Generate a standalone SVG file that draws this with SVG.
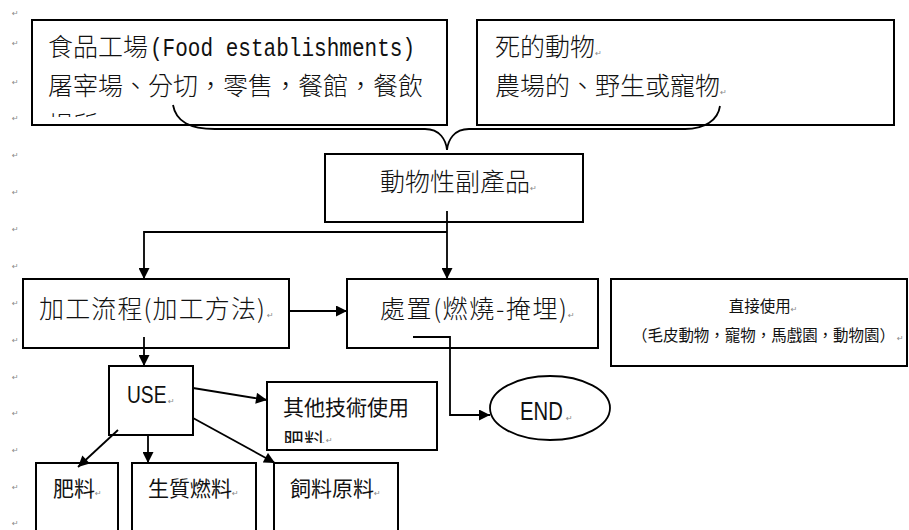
<svg xmlns="http://www.w3.org/2000/svg" width="909" height="530" viewBox="0 0 909 530">
<style>
.box{fill:#fff;stroke:#000;stroke-width:2}
.ln{fill:none;stroke:#000;stroke-width:1.8}
.ming{font-family:"Noto Sans CJK TC","Noto Sans CJK JP",sans-serif;font-size:25px;fill:#111;font-weight:300}
.sm{font-family:"Noto Sans CJK TC",sans-serif;font-size:15.5px;fill:#111;font-weight:400}
.sans{font-family:"Noto Sans CJK TC",sans-serif;font-size:21px;fill:#111}
.lat{font-family:"Liberation Sans",Arial,sans-serif;fill:#111}
.pm{font-family:"DejaVu Sans",sans-serif;font-size:8px;fill:#888}
</style>
<defs>
<marker id="ah" viewBox="0 0 10 10" refX="10" refY="5" markerWidth="12" markerHeight="11" markerUnits="userSpaceOnUse" orient="auto">
<path d="M0,0 L10,5 L0,10 z" fill="#000"/>
</marker>
<clipPath id="c1"><rect x="32" y="20" width="414" height="97"/></clipPath>
<clipPath id="c2"><rect x="268" y="383" width="168" height="60"/></clipPath>
</defs>

<g id="margin-marks">
<text class="pm" x="12" y="16">↵</text>
<text class="pm" x="12" y="46">↵</text>
<text class="pm" x="12" y="85">↵</text>
<text class="pm" x="12" y="121">↵</text>
<text class="pm" x="12" y="158">↵</text>
<text class="pm" x="12" y="195">↵</text>
<text class="pm" x="12" y="232">↵</text>
<text class="pm" x="12" y="269">↵</text>
<text class="pm" x="12" y="306">↵</text>
<text class="pm" x="12" y="343">↵</text>
<text class="pm" x="12" y="380">↵</text>
<text class="pm" x="12" y="416">↵</text>
<text class="pm" x="12" y="453">↵</text>
<text class="pm" x="12" y="490">↵</text>
<text class="pm" x="12" y="526">↵</text>
</g>

<g id="food-establishments">
<rect class="box" x="32" y="20" width="415" height="105"/>
<text class="ming" x="48" y="56">食品工場</text>
<text x="150" y="56" font-family="Liberation Mono,monospace" font-size="26" fill="#111" textLength="265" lengthAdjust="spacingAndGlyphs">(Food establishments)</text>
<text class="ming" x="48" y="95">屠宰場、分切，零售，餐館，餐飲</text>
<g clip-path="url(#c1)"><text class="ming" x="48" y="134">場所</text></g>
</g>

<g id="dead-animals">
<rect class="box" x="477" y="20" width="417" height="105"/>
<text class="ming" x="495" y="56">死的動物<tspan class="pm">↵</tspan></text>
<text class="ming" x="495" y="95">農場的、野生或寵物<tspan class="pm">↵</tspan></text>
</g>

<g id="animal-by-products">
<rect class="box" x="325" y="154" width="258" height="68"/>
<text class="ming" x="380" y="191">動物性副產品<tspan class="pm">↵</tspan></text>
</g>

<g id="processing">
<rect class="box" x="23" y="279" width="266" height="69"/>
<text class="ming" x="39" y="318" textLength="226" lengthAdjust="spacing">加工流程(加工方法)</text>
<text class="pm" x="267" y="318">↵</text>
</g>

<g id="disposal">
<rect class="box" x="347" y="279" width="251" height="69"/>
<text class="ming" x="380" y="318" textLength="187" lengthAdjust="spacing">處置(燃燒-掩埋)</text>
<text class="pm" x="568" y="318">↵</text>
</g>

<g id="direct-use">
<rect class="box" x="611" y="279" width="296" height="87"/>
<text class="sm" x="763" y="312" text-anchor="middle">直接使用<tspan class="pm">↵</tspan></text>
<text class="sm" x="632" y="341" textLength="263" lengthAdjust="spacing">（毛皮動物，寵物，馬戲園，動物園）</text>
<text class="pm" x="897" y="341">↵</text>
</g>

<g id="use">
<rect class="box" x="109" y="366" width="84" height="69"/>
<text class="lat" transform="translate(127,403) scale(0.8,1)" font-size="24">USE</text>
<text class="pm" x="168" y="404">↵</text>
</g>

<g id="end">
<ellipse cx="550" cy="408" rx="60" ry="32" fill="#fff" stroke="#000" stroke-width="1.8"/>
<text class="lat" transform="translate(520,420) scale(0.78,1)" font-size="26">END</text>
<text class="pm" x="566" y="421">↵</text>
</g>

<g id="other-tech">
<rect class="box" x="267" y="382" width="170" height="68"/>
<text class="sans" x="283" y="415" font-size="21">其他技術使用</text>
<g clip-path="url(#c2)"><text class="sans" x="283" y="448" font-size="21">肥料</text></g>
<text class="pm" x="326" y="443">↵</text>
</g>

<g id="fertilizer">
<rect class="box" x="36" y="463" width="82" height="80"/>
<text class="sans" x="53" y="496" font-size="20">肥料<tspan class="pm">↵</tspan></text>
</g>

<g id="biofuel">
<rect class="box" x="132" y="463" width="124" height="80"/>
<text class="sans" x="148" y="496">生質燃料<tspan class="pm">↵</tspan></text>
</g>

<g id="feed">
<rect class="box" x="274" y="463" width="124" height="80"/>
<text class="sans" x="290" y="496">飼料原料<tspan class="pm">↵</tspan></text>
</g>

<g id="connectors">
<path class="ln" d="M173,105 C176,122 190,129 215,129 L425,129 C440,129 446,140 447,150 C448,140 454,129 469,129 L685,129 C705,129 718,120 720,106"/>
<path class="ln" d="M447,211 V279" marker-end="url(#ah)"/>
<path class="ln" d="M447,232 H144 V279" marker-end="url(#ah)"/>
<path class="ln" d="M289,311 H347" marker-end="url(#ah)"/>
<path class="ln" d="M144,337 V366" marker-end="url(#ah)"/>
<path class="ln" d="M413,337 H450 V415 H490" marker-end="url(#ah)"/>
<path class="ln" d="M193,388 L267,400" marker-end="url(#ah)"/>
<path class="ln" d="M193,418 L275,463" marker-end="url(#ah)"/>
<path class="ln" d="M118,430 L78,467" marker-end="url(#ah)"/>
<path class="ln" d="M148,435 V463" marker-end="url(#ah)"/>
</g>
</svg>
